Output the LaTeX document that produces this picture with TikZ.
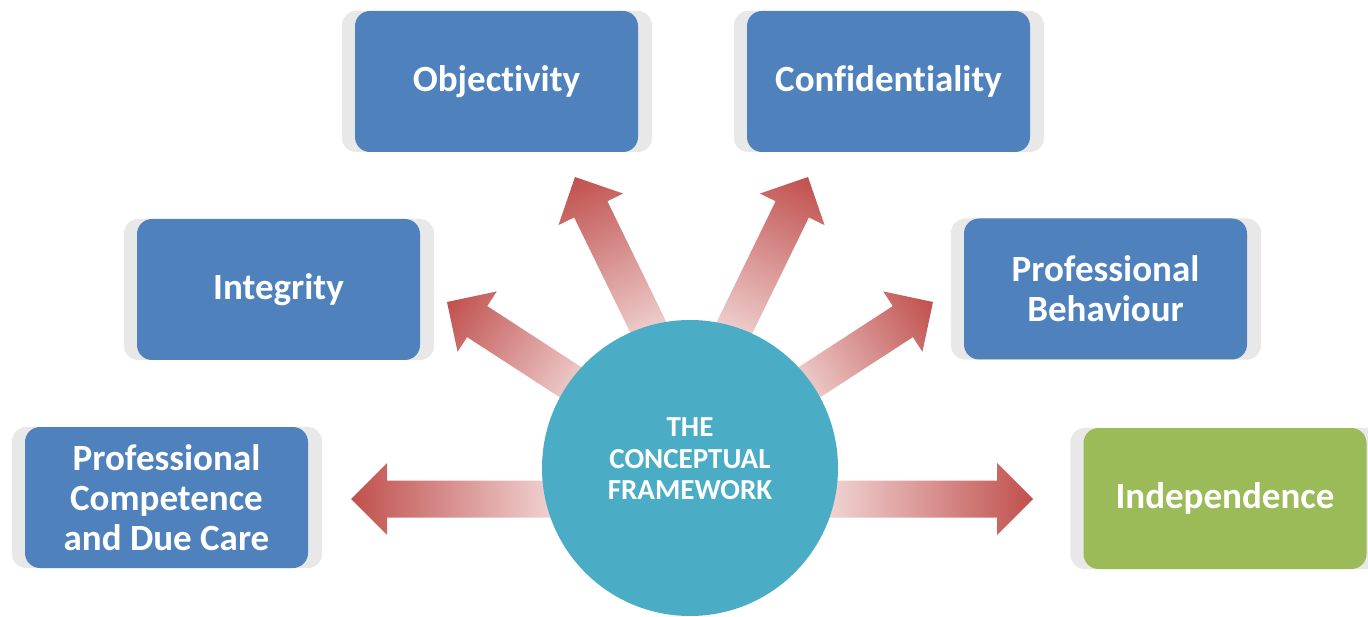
\documentclass[tikz,border=0pt]{standalone}
\usepackage{fontspec}
\setmainfont{Carlito}[Ligatures=NoCommon]
\usetikzlibrary{calc, backgrounds}

\definecolor{boxblue}{HTML}{4F81BD}
\definecolor{boxgreen}{HTML}{9BBB59}
\definecolor{hubcyan}{HTML}{4BACC6}
\definecolor{cardgray}{HTML}{E8E8E8}
\definecolor{rayred}{HTML}{C0504D}
\definecolor{raytail}{HTML}{FBF1F1}

\begin{document}
\begin{tikzpicture}[x=1pt, y=-1pt,
    card/.style={rectangle, fill=boxblue, rounded corners=15pt, minimum width=283pt, minimum height=141pt, text=white, font=\fontsize{37}{40}\selectfont\bfseries, align=center},
    hub/.style={circle, fill=hubcyan, minimum size=296pt, inner sep=0pt},
    hublabel/.style={text=white, font=\fontsize{29}{31.5}\selectfont\bfseries, align=center}]
    \useasboundingbox (0,0) rectangle (1368,617);

    \node[card] (obj) at (496.5,81.5) {Objectivity};
    \node[card] (conf) at (888.5,81.5) {Confidentiality};
    \node[card] (integ) at (278.5,289.5) {Integrity};
    \node[card] (behav) at (1105.5,289) {Professional\\Behaviour};
    \node[card] (comp) at (166.5,497.5) {Professional\\Competence\\and Due Care};
    \node[card, fill=boxgreen] (indep) at (1225,498.5) {Independence};

    % grey tabs behind the boxes
    \begin{scope}[on background layer]
        \foreach \n in {obj, conf, integ, behav, comp, indep}
            \fill[cardgray, rounded corners=15pt] ($(\n.north west)+(-13,0)$) rectangle ($(\n.south east)+(14,0)$);
    \end{scope}

    % block arrows: tip x, tip y, angle, length
    \foreach \tx/\ty/\ang/\len in {351/499/180/250, 1033/499/0/250, 447/302/147/200, 933/302/33/200, 575/177/116/220, 808/177/64/220} {
        \begin{scope}[transform canvas={shift={(\tx,\ty)}, rotate=\ang}]
            \shade[left color=raytail, right color=rayred] (-\len,-18.5) -- (-36,-18.5) -- (-36,-36) -- (0,0) -- (-36,36) -- (-36,18.5) -- (-\len,18.5) -- cycle;
        \end{scope}
    }

    \node[hub] (hub) at (690,468) {};
    \node[hublabel] (hubtext) at ([yshift=9pt]hub.center) {THE\\CONCEPTUAL\\FRAMEWORK};
\end{tikzpicture}
\end{document}
